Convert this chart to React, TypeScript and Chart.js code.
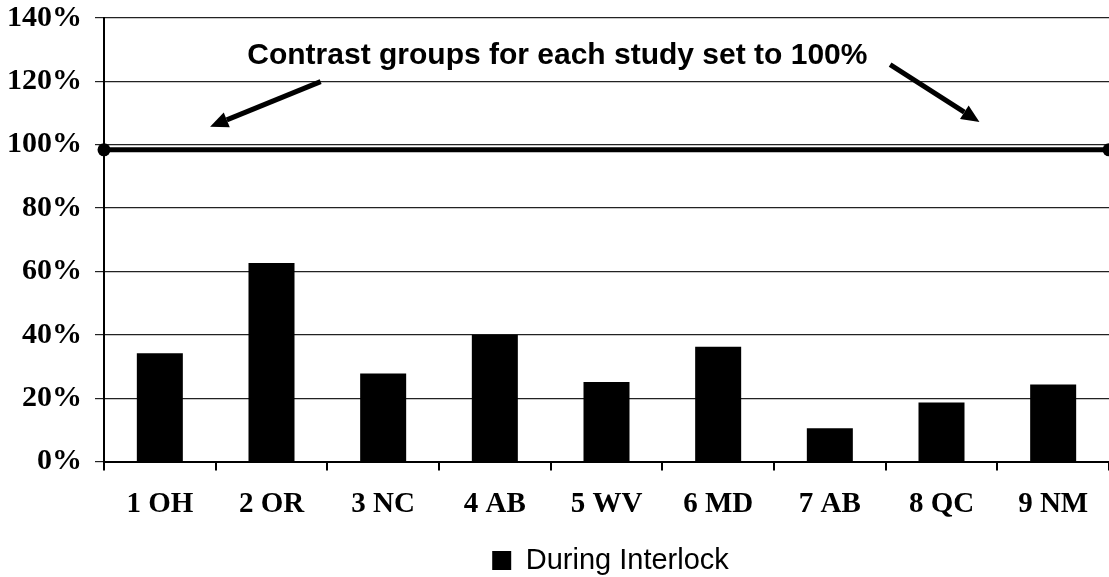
import React, { useEffect, useRef } from "react";
import { Chart, registerables } from "chart.js";

Chart.register(...registerables);

const categories = ["1 OH", "2 OR", "3 NC", "4 AB", "5 WV", "6 MD", "7 AB", "8 QC", "9 NM"];
const duringInterlock = [34.2, 62.7, 27.8, 40.0, 25.1, 36.2, 10.5, 18.6, 24.3];
const contrastLevel = 98.4;
const yTicks = [0, 20, 40, 60, 80, 100, 120, 140];
const annotationText = "Contrast groups for each study set to 100%";
const annotationPos = [3.56, 128.2]; // [category index, percent]
const leftArrow = [[1.44, 119.9], [0.45, 105.7]];
const rightArrow = [[6.54, 125.3], [7.34, 107.2]];

const SERIF = "'Liberation Serif', 'Times New Roman', serif";
const SANS = "'Liberation Sans', Arial, sans-serif";
const LEGEND_SHIFT = 56;

const annotationPlugin = {
  id: "contrastAnnotation",
  afterLayout(chart: any) {
    if (chart.legend) {
      chart.legend.left += LEGEND_SHIFT;
      chart.legend.right += LEGEND_SHIFT;
    }
  },
  afterDatasetsDraw(chart: any) {
    const ctx = chart.ctx;
    const xs = chart.scales.x;
    const ys = chart.scales.y;
    const px = (p: number[]) => [xs.getPixelForValue(p[0]), ys.getPixelForValue(p[1])];
    ctx.save();
    ctx.fillStyle = "#000";
    ctx.font = `bold 30px ${SANS}`;
    ctx.textAlign = "center";
    ctx.textBaseline = "middle";
    const [tx, ty] = px(annotationPos);
    ctx.fillText(annotationText, tx, ty);
    const drawArrow = (a: number[][]) => {
      const [x1, y1] = px(a[0]);
      const [x2, y2] = px(a[1]);
      const ang = Math.atan2(y2 - y1, x2 - x1);
      const head = 18;
      const hw = 8;
      const bx = x2 - head * Math.cos(ang);
      const by = y2 - head * Math.sin(ang);
      ctx.strokeStyle = "#000";
      ctx.lineWidth = 5;
      ctx.lineCap = "butt";
      ctx.beginPath();
      ctx.moveTo(x1, y1);
      ctx.lineTo(bx, by);
      ctx.stroke();
      ctx.beginPath();
      ctx.moveTo(x2, y2);
      ctx.lineTo(bx + hw * Math.sin(ang), by - hw * Math.cos(ang));
      ctx.lineTo(bx - hw * Math.sin(ang), by + hw * Math.cos(ang));
      ctx.closePath();
      ctx.fill();
    };
    drawArrow(leftArrow);
    drawArrow(rightArrow);
    ctx.restore();
  },
};

export default function App() {
  const ref = useRef<HTMLCanvasElement>(null);
  useEffect(() => {
    document.body.style.margin = "0";
    const chart = new Chart(ref.current as HTMLCanvasElement, {
      type: "bar",
      data: {
        labels: categories,
        datasets: [
          {
            type: "bar",
            label: "During Interlock",
            data: duringInterlock,
            backgroundColor: "#000",
            borderWidth: 0,
            grouped: false,
            categoryPercentage: 1,
            barPercentage: 0.412,
            order: 2,
          } as any,
          {
            type: "line",
            label: "Contrast",
            data: [
              { x: 0, y: contrastLevel },
              { x: 1, y: contrastLevel },
            ],
            xAxisID: "x2",
            borderColor: "#000",
            borderWidth: 5,
            pointRadius: 6.5,
            pointBackgroundColor: "#000",
            pointBorderColor: "#000",
            pointBorderWidth: 0,
            clip: false,
            order: 1,
          } as any,
        ],
      },
      options: {
        animation: false,
        responsive: false,
        events: [],
        layout: { autoPadding: false, padding: { top: 18, right: 0, bottom: -8, left: 0 } },
        plugins: {
          tooltip: { enabled: false },
          legend: {
            position: "bottom",
            labels: {
              filter: (item: any) => item.datasetIndex === 0,
              color: "#000",
              font: { family: SANS, size: 29 },
              boxWidth: 19,
              boxHeight: 19,
              padding: 10,
            },
          },
        },
        scales: {
          x: {
            type: "category",
            offset: true,
            grid: {
              offset: true,
              drawOnChartArea: false,
              drawTicks: true,
              tickLength: 9,
              color: "#000",
              lineWidth: 2,
            },
            border: { display: true, color: "#000", width: 2 },
            ticks: {
              color: "#000",
              font: { family: SERIF, size: 29, weight: "bold" },
              padding: 17,
              maxRotation: 0,
              autoSkip: false,
            },
            afterFit: (s: any) => {
              s.height = 74.5;
              s.paddingLeft = 0;
              s.paddingRight = 0;
            },
          },
          x2: {
            type: "linear",
            display: false,
            offset: false,
            min: 0,
            max: 1,
          },
          y: {
            min: 0,
            max: 140,
            afterBuildTicks: (s: any) => {
              s.ticks = yTicks.map((v) => ({ value: v }));
            },
            grid: {
              color: "#222",
              lineWidth: 1.2,
              drawTicks: true,
              tickLength: 9,
            },
            border: { display: true, color: "#000", width: 2 },
            ticks: {
              color: "#000",
              font: { family: SERIF, size: 30, weight: "bold" },
              padding: 13,
              callback: (v: any) => v + "%",
            },
            afterFit: (s: any) => {
              s.width = 104;
              s.paddingTop = 0;
              s.paddingBottom = 0;
            },
          },
        },
      },
      plugins: [annotationPlugin],
    } as any);
    return () => chart.destroy();
  }, []);
  return (
    <div style={{ position: "fixed", left: 0, top: 0, width: 1109, height: 577, background: "#fff" }}>
      <canvas ref={ref} width={1109} height={577} />
    </div>
  );
}
